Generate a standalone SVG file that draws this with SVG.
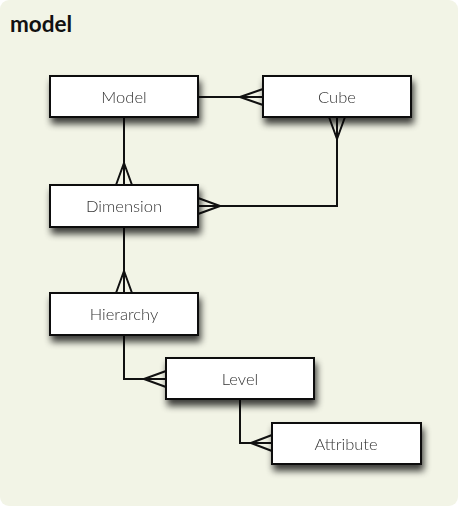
<svg xmlns="http://www.w3.org/2000/svg" width="460" height="508" viewBox="0 0 460 508">
<defs>
<filter id="sh" x="-20%" y="-30%" width="150%" height="190%">
<feGaussianBlur in="SourceAlpha" stdDeviation="3.5"/>
<feOffset dx="2" dy="6" result="b"/>
<feComponentTransfer><feFuncA type="linear" slope="0.75"/></feComponentTransfer>
<feMerge><feMergeNode/><feMergeNode in="SourceGraphic"/></feMerge>
</filter>
</defs>
<style>
.box{fill:#ffffff;stroke:#111;stroke-width:2}
.lbl{font-family:Lato,"Liberation Sans",sans-serif;font-size:16.5px;fill:#333;text-anchor:middle;font-weight:300}
.ln{fill:none;stroke:#111;stroke-width:2}
</style>
<rect width="460" height="508" fill="#ffffff"/>
<rect x="0" y="0" width="458" height="506" rx="9" fill="#f2f4e6"/>
<text x="10" y="32" font-family="Lato,'Liberation Sans',sans-serif" font-size="22.5" font-weight="bold" fill="#111">model</text>
<g id="connectors">
<path class="ln" d="M198,97 H263 M240,97 L263,89 M240,97 L263,105"/>
<path class="ln" d="M124,117 V185 M124,163 L116,185 M124,163 L132,185"/>
<path class="ln" d="M198,206 H337 V117 M220,206 L198,198 M220,206 L198,214 M337,139 L329,117 M337,139 L345,117"/>
<path class="ln" d="M124,227 V293 M124,271 L116,293 M124,271 L132,293"/>
<path class="ln" d="M124,335 V379 H166 M144,379 L166,371 M144,379 L166,387"/>
<path class="ln" d="M240,399 V443 H272 M251,443 L272,435 M251,443 L272,451"/>
</g>
<g id="Model" filter="url(#sh)"><rect class="box" x="50" y="76" width="148" height="41"/><text class="lbl" x="124" y="102.5">Model</text></g>
<g id="Cube" filter="url(#sh)"><rect class="box" x="263" y="76" width="148" height="41"/><text class="lbl" x="337" y="102.5">Cube</text></g>
<g id="Dimension" filter="url(#sh)"><rect class="box" x="50" y="185" width="148" height="42"/><text class="lbl" x="124" y="211.5">Dimension</text></g>
<g id="Hierarchy" filter="url(#sh)"><rect class="box" x="50" y="293" width="148" height="42"/><text class="lbl" x="124" y="319.5">Hierarchy</text></g>
<g id="Level" filter="url(#sh)"><rect class="box" x="166" y="358" width="148" height="41"/><text class="lbl" x="240" y="384.5">Level</text></g>
<g id="Attribute" filter="url(#sh)"><rect class="box" x="272" y="423" width="149" height="41"/><text class="lbl" x="346" y="449.5">Attribute</text></g>
</svg>
